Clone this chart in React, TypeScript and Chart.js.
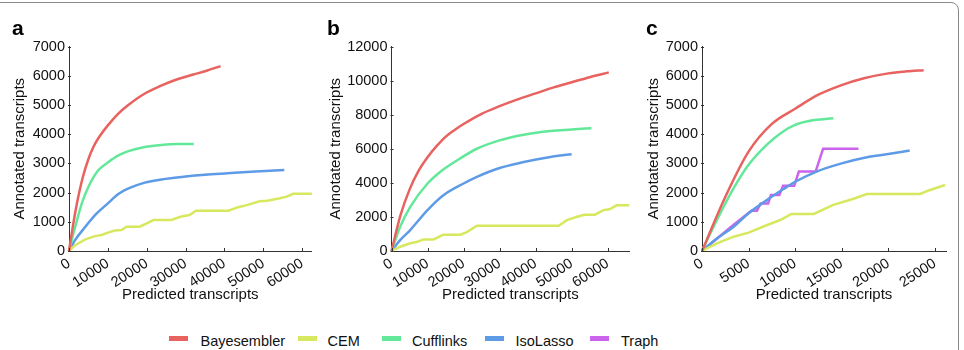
import React, { useEffect, useRef } from "react";
import { Chart, registerables } from "chart.js";

Chart.register(...registerables);

const FONT = "'Liberation Sans', Arial, Helvetica, sans-serif";

const SERIES_NAMES = ["Bayesembler", "CEM", "Cufflinks", "IsoLasso", "Traph"];
const SERIES_COLORS = ["#e8625f", "#d8e85e", "#63e89a", "#5e9be6", "#cc63ec"];
const Y_TITLE = "Annotated transcripts";
const X_TITLE = "Predicted transcripts";
const PANEL_LABELS = ["a", "b", "c"];

// tick values
const A_X_TICKS = [0, 10000, 20000, 30000, 40000, 50000, 60000];
const A_Y_TICKS = [0, 1000, 2000, 3000, 4000, 5000, 6000, 7000];
const B_X_TICKS = [0, 10000, 20000, 30000, 40000, 50000, 60000];
const B_Y_TICKS = [0, 2000, 4000, 6000, 8000, 10000, 12000];
const C_X_TICKS = [0, 5000, 10000, 15000, 20000, 25000];
const C_Y_TICKS = [0, 1000, 2000, 3000, 4000, 5000, 6000, 7000];

// ---------- Panel a ----------
const A_BAYES_X = [0, 1000, 2000, 3500, 5000, 6250, 7500, 10000, 12500, 15000, 19000, 23400, 27700, 32000, 35400, 39000];
const A_BAYES_Y = [0, 850, 1600, 2500, 3150, 3550, 3850, 4300, 4680, 4970, 5350, 5640, 5870, 6040, 6170, 6330];
const A_CEM_X = [0, 1600, 4200, 6700, 8400, 10000, 11800, 13500, 14800, 18200, 20400, 21700, 26300, 28900, 31000, 32700, 41000, 43500, 46000, 49000, 51000, 54000, 56000, 57700, 62500];
const A_CEM_Y = [0, 200, 400, 510, 550, 630, 700, 720, 830, 830, 970, 1060, 1060, 1180, 1230, 1380, 1380, 1500, 1580, 1700, 1720, 1800, 1860, 1960, 1960];
const A_CUFF_X = [0, 1600, 3300, 5000, 7600, 10000, 12700, 15300, 19500, 23800, 28000, 32100];
const A_CUFF_Y = [0, 830, 1630, 2200, 2770, 3030, 3270, 3420, 3560, 3630, 3660, 3660];
const A_ISO_X = [0, 1600, 4200, 6700, 10000, 12700, 15300, 19500, 23800, 30000, 35000, 40800, 48000, 55400];
const A_ISO_Y = [0, 380, 830, 1230, 1630, 1950, 2140, 2340, 2450, 2550, 2610, 2660, 2720, 2770];

// ---------- Panel b ----------
const B_BAYES_X = [0, 2500, 5000, 7500, 10000, 12500, 15000, 17500, 20000, 25000, 30000, 35000, 40000, 45000, 50000, 55000, 60300];
const B_BAYES_Y = [0, 2100, 3600, 4700, 5500, 6150, 6700, 7100, 7450, 8050, 8500, 8900, 9250, 9600, 9900, 10200, 10480];
const B_CEM_X = [0, 2400, 5200, 7000, 8900, 11700, 14400, 19100, 20900, 23700, 46400, 48700, 51500, 53500, 56500, 58800, 60500, 62500, 66000];
const B_CEM_Y = [0, 250, 450, 530, 680, 680, 960, 960, 1110, 1480, 1480, 1810, 2010, 2130, 2130, 2400, 2450, 2680, 2680];
const B_CUFF_X = [0, 2400, 5200, 10000, 13500, 18200, 23700, 30000, 36700, 44100, 50000, 55500];
const B_CUFF_Y = [0, 1420, 2590, 3960, 4640, 5320, 6000, 6490, 6820, 7040, 7130, 7210];
const B_ISO_X = [0, 2400, 5200, 10000, 14400, 20000, 23700, 30000, 36700, 44100, 50000];
const B_ISO_Y = [0, 640, 1230, 2400, 3270, 3960, 4350, 4870, 5220, 5520, 5680];

// ---------- Panel c ----------
const C_BAYES_X = [0, 2500, 5000, 7500, 10000, 12500, 15000, 17500, 20000, 22000, 23800];
const C_BAYES_Y = [0, 1850, 3400, 4350, 4870, 5350, 5680, 5920, 6080, 6150, 6190];
const C_CEM_X = [0, 1600, 3400, 5000, 7000, 8400, 9600, 12000, 14100, 16200, 17700, 23400, 24500, 26100];
const C_CEM_Y = [0, 260, 490, 630, 890, 1060, 1270, 1270, 1580, 1780, 1950, 1950, 2090, 2260];
const C_CUFF_X = [0, 1600, 3400, 5000, 7000, 8750, 10000, 11600, 14100];
const C_CUFF_Y = [0, 1060, 2150, 2950, 3650, 4100, 4320, 4460, 4540];
const C_ISO_X = [0, 1600, 3400, 5000, 7000, 8750, 10000, 12300, 15000, 17700, 20000, 22300];
const C_ISO_Y = [0, 430, 830, 1290, 1750, 2120, 2370, 2720, 3000, 3210, 3320, 3440];
const C_TRAPH_X = [0, 3400, 5300, 5900, 6300, 7100, 7400, 8300, 8700, 9900, 10400, 12200, 13000, 16800];
const C_TRAPH_Y = [0, 900, 1380, 1380, 1630, 1630, 1920, 1920, 2230, 2230, 2720, 2720, 3500, 3500];

const zip = (xs: number[], ys: number[]) => xs.map((x, i) => ({ x, y: ys[i] }));

type SeriesDef = { idx: number; xs: number[]; ys: number[]; smooth: boolean };

const PANELS = [
  {
    left: 0, width: 320, yAxisW: 69, padRight: 8.5, yTitlePad: 11,
    xMax: 62400, yMax: 7000, xTicks: A_X_TICKS, yTicks: A_Y_TICKS,
    series: [
      { idx: 0, xs: A_BAYES_X, ys: A_BAYES_Y, smooth: true },
      { idx: 1, xs: A_CEM_X, ys: A_CEM_Y, smooth: false },
      { idx: 2, xs: A_CUFF_X, ys: A_CUFF_Y, smooth: true },
      { idx: 3, xs: A_ISO_X, ys: A_ISO_Y, smooth: true },
    ] as SeriesDef[],
  },
  {
    left: 320, width: 320, yAxisW: 71.5, padRight: 10.7, yTitlePad: 7,
    xMax: 66000, yMax: 12000, xTicks: B_X_TICKS, yTicks: B_Y_TICKS,
    series: [
      { idx: 0, xs: B_BAYES_X, ys: B_BAYES_Y, smooth: true },
      { idx: 1, xs: B_CEM_X, ys: B_CEM_Y, smooth: false },
      { idx: 2, xs: B_CUFF_X, ys: B_CUFF_Y, smooth: true },
      { idx: 3, xs: B_ISO_X, ys: B_ISO_Y, smooth: true },
    ] as SeriesDef[],
  },
  {
    left: 640, width: 324, yAxisW: 62, padRight: 18, yTitlePad: 5,
    xMax: 26200, yMax: 7000, xTicks: C_X_TICKS, yTicks: C_Y_TICKS,
    series: [
      { idx: 0, xs: C_BAYES_X, ys: C_BAYES_Y, smooth: true },
      { idx: 1, xs: C_CEM_X, ys: C_CEM_Y, smooth: false },
      { idx: 2, xs: C_CUFF_X, ys: C_CUFF_Y, smooth: true },
      { idx: 3, xs: C_ISO_X, ys: C_ISO_Y, smooth: true },
      { idx: 4, xs: C_TRAPH_X, ys: C_TRAPH_Y, smooth: false },
    ] as SeriesDef[],
  },
];

const CANVAS_H = 320;
const X_AXIS_H = 69;
const TOP_PAD = 46.5;

const inwardTicks = {
  id: "inwardTicks",
  afterDraw(chart: any) {
    const { ctx, chartArea, scales } = chart;
    ctx.save();
    ctx.strokeStyle = "#333";
    ctx.lineWidth = 1;
    scales.x.ticks.forEach((t: any) => {
      const px = Math.round(scales.x.getPixelForValue(t.value)) + 0.5;
      ctx.beginPath();
      ctx.moveTo(px, chartArea.bottom);
      ctx.lineTo(px, chartArea.bottom - 3);
      ctx.stroke();
    });
    scales.y.ticks.forEach((t: any) => {
      const py = Math.round(scales.y.getPixelForValue(t.value)) + 0.5;
      ctx.beginPath();
      ctx.moveTo(chartArea.left - 1, py);
      ctx.lineTo(chartArea.left + 2, py);
      ctx.stroke();
    });
    ctx.restore();
  },
};

function Panel({ p }: { p: (typeof PANELS)[number] }) {
  const ref = useRef<HTMLCanvasElement | null>(null);
  useEffect(() => {
    if (!ref.current) return;
    const chart = new Chart(ref.current, {
      type: "line",
      data: {
        datasets: p.series.map((s) => ({
          label: SERIES_NAMES[s.idx],
          data: zip(s.xs, s.ys),
          borderColor: SERIES_COLORS[s.idx],
          backgroundColor: SERIES_COLORS[s.idx],
          borderWidth: 2.5,
          pointRadius: 0,
          fill: false,
          tension: s.smooth ? 0.4 : 0,
          cubicInterpolationMode: s.smooth ? "monotone" : "default",
          clip: 4,
        })),
      },
      options: {
        animation: false,
        responsive: false,
        events: [],
        layout: { padding: { left: 0, right: p.padRight, top: TOP_PAD, bottom: 0 } },
        plugins: { legend: { display: false }, tooltip: { enabled: false } },
        scales: {
          x: {
            type: "linear",
            min: 0,
            max: p.xMax,
            grid: { display: true, drawOnChartArea: false, drawTicks: false },
            border: { display: true, color: "#333", width: 1 },
            afterBuildTicks: (s: any) => {
              s.ticks = p.xTicks.map((v) => ({ value: v }));
            },
            ticks: {
              autoSkip: false,
              minRotation: 33,
              maxRotation: 33,
              padding: 4,
              color: "#111",
              font: { family: FONT, size: 14.5 },
              callback: (v: any) => String(v),
            },
            title: {
              display: true,
              text: X_TITLE,
              color: "#111",
              font: { family: FONT, size: 15 },
              padding: { top: 0, bottom: 16 },
            },
            afterFit: (s: any) => {
              s.height = X_AXIS_H;
              s.paddingLeft = 0;
              s.paddingRight = 0;
            },
          },
          y: {
            type: "linear",
            min: 0,
            max: p.yMax,
            grid: { display: true, drawOnChartArea: false, drawTicks: false },
            border: { display: true, color: "#333", width: 1 },
            afterBuildTicks: (s: any) => {
              s.ticks = p.yTicks.map((v) => ({ value: v }));
            },
            ticks: {
              autoSkip: false,
              padding: 4,
              color: "#111",
              font: { family: FONT, size: 14.5 },
              callback: (v: any) => String(v),
            },
            title: {
              display: true,
              text: Y_TITLE,
              color: "#111",
              font: { family: FONT, size: 15 },
              padding: { top: p.yTitlePad, bottom: 0 },
            },
            afterFit: (s: any) => {
              s.width = p.yAxisW;
              s.paddingTop = 0;
              s.paddingBottom = 0;
            },
          },
        },
      } as any,
      plugins: [inwardTicks],
    });
    return () => chart.destroy();
  }, [p]);
  return (
    <canvas
      ref={ref}
      width={p.width}
      height={CANVAS_H}
      style={{ position: "absolute", left: p.left, top: 0, width: p.width, height: CANVAS_H }}
    />
  );
}

const LEGEND_SWATCH_X = [169, 297.5, 381.5, 485, 590];
const LEGEND_TEXT_X = [200.5, 327.5, 412, 515.5, 621];
const PANEL_LABEL_X = [12, 327, 646];

export default function App() {
  return (
    <div
      style={{
        position: "absolute",
        left: 0,
        top: 0,
        width: 964,
        height: 350,
        overflow: "hidden",
        background: "#fff",
        fontFamily: FONT,
      }}
    >
      <div
        style={{
          position: "absolute",
          left: -20,
          top: 1.5,
          width: 961 - -20 - 2,
          height: 420,
          border: "1.5px solid #8a8a8a",
          borderRadius: 8,
          boxSizing: "border-box",
        }}
      />
      {PANELS.map((p, i) => (
        <Panel key={i} p={p} />
      ))}
      {PANEL_LABELS.map((t, i) => (
        <div
          key={t}
          style={{
            position: "absolute",
            left: PANEL_LABEL_X[i],
            top: 17,
            fontSize: 21,
            lineHeight: "21px",
            fontWeight: "bold",
            color: "#000",
          }}
        >
          {t}
        </div>
      ))}
      {SERIES_NAMES.map((n, i) => (
        <React.Fragment key={n}>
          <div
            style={{
              position: "absolute",
              left: LEGEND_SWATCH_X[i],
              top: 336,
              width: 19,
              height: 5,
              background: SERIES_COLORS[i],
            }}
          />
          <div
            style={{
              position: "absolute",
              left: LEGEND_TEXT_X[i],
              top: 333.5,
              fontSize: 14.5,
              lineHeight: "14.5px",
              fontFamily: "'Liberation Sans Narrow', 'Arial Narrow', " + FONT,
              color: "#111",
              whiteSpace: "nowrap",
            }}
          >
            {n}
          </div>
        </React.Fragment>
      ))}
    </div>
  );
}
